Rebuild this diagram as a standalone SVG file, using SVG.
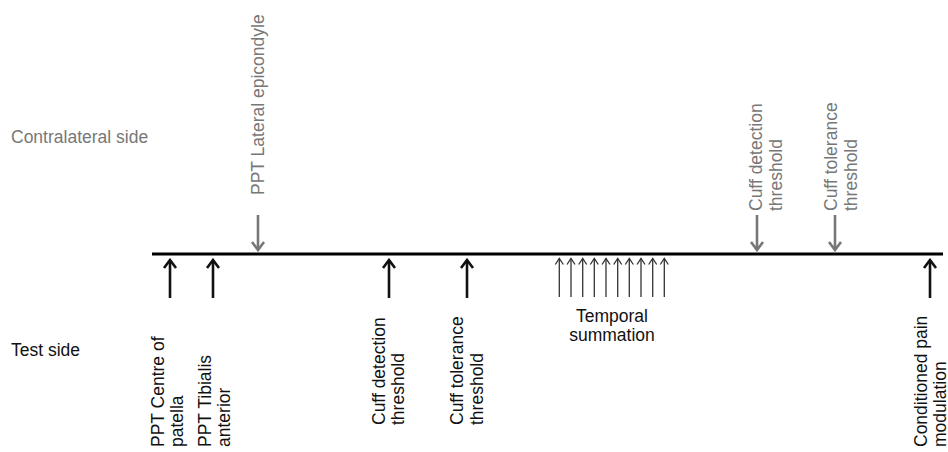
<svg xmlns="http://www.w3.org/2000/svg" width="948" height="452" viewBox="0 0 948 452">
<style>
text{font-family:"Liberation Sans",Arial,sans-serif;font-size:17.5px}
.g{fill:#777}
.k{fill:#111}
.ab{stroke:#111;stroke-width:2.6;fill:none}
.ag{stroke:#777;stroke-width:2.6;fill:none}
.at{stroke:#333;stroke-width:1.3;fill:none}
</style>
<defs>
<marker id="hk" viewBox="-10 -8 12 16" markerWidth="12" markerHeight="16" refX="0" refY="0" orient="auto" markerUnits="userSpaceOnUse"><path d="M-8,-6 L0,0 L-8,6" fill="none" stroke="#111" stroke-width="2.6"/></marker>
<marker id="hg" viewBox="-10 -8 12 16" markerWidth="12" markerHeight="16" refX="0" refY="0" orient="auto" markerUnits="userSpaceOnUse"><path d="M-8,-6 L0,0 L-8,6" fill="none" stroke="#777" stroke-width="2.6"/></marker>
<marker id="ht" viewBox="-8 -6 10 12" markerWidth="10" markerHeight="12" refX="0" refY="0" orient="auto" markerUnits="userSpaceOnUse"><path d="M-6,-4 L0,0 L-6,4" fill="none" stroke="#333" stroke-width="1.3"/></marker>
</defs>
<rect width="948" height="452" fill="#fff"/>
<g id="side-labels">
<text class="g" x="11" y="143">Contralateral side</text>
<text class="k" x="11" y="356">Test side</text>
</g>
<g id="timeline"><line x1="152" y1="254" x2="943" y2="254" stroke="#000" stroke-width="3"/></g>
<g id="connectors">
<line class="ag" x1="258" y1="215" x2="258" y2="250" marker-end="url(#hg)"/>
<line class="ag" x1="757" y1="215" x2="757" y2="250" marker-end="url(#hg)"/>
<line class="ag" x1="835" y1="215" x2="835" y2="250" marker-end="url(#hg)"/>
<line class="ab" x1="170" y1="298" x2="170" y2="260" marker-end="url(#hk)"/>
<line class="ab" x1="213" y1="298" x2="213" y2="260" marker-end="url(#hk)"/>
<line class="ab" x1="389" y1="298" x2="389" y2="260" marker-end="url(#hk)"/>
<line class="ab" x1="467" y1="298" x2="467" y2="260" marker-end="url(#hk)"/>
<line class="ab" x1="930" y1="298" x2="930" y2="260" marker-end="url(#hk)"/>
<g id="temporal-arrows">
<line class="at" x1="559.3" y1="297" x2="559.3" y2="258.5" marker-end="url(#ht)"/>
<line class="at" x1="571" y1="297" x2="571" y2="258.5" marker-end="url(#ht)"/>
<line class="at" x1="582.7" y1="297" x2="582.7" y2="258.5" marker-end="url(#ht)"/>
<line class="at" x1="594.3" y1="297" x2="594.3" y2="258.5" marker-end="url(#ht)"/>
<line class="at" x1="606" y1="297" x2="606" y2="258.5" marker-end="url(#ht)"/>
<line class="at" x1="617.7" y1="297" x2="617.7" y2="258.5" marker-end="url(#ht)"/>
<line class="at" x1="629.3" y1="297" x2="629.3" y2="258.5" marker-end="url(#ht)"/>
<line class="at" x1="641" y1="297" x2="641" y2="258.5" marker-end="url(#ht)"/>
<line class="at" x1="652.7" y1="297" x2="652.7" y2="258.5" marker-end="url(#ht)"/>
<line class="at" x1="664.3" y1="297" x2="664.3" y2="258.5" marker-end="url(#ht)"/>
</g>
</g>
<g id="ppt-lateral-epicondyle">
<text class="g" transform="translate(263.5,195) rotate(-90)">PPT Lateral epicondyle</text>
</g>
<g id="contra-cuff-detection">
<text class="g" transform="translate(762,211) rotate(-90)"><tspan x="0" y="0">Cuff detection</tspan><tspan x="0" y="19.5">threshold</tspan></text>
</g>
<g id="contra-cuff-tolerance">
<text class="g" transform="translate(837,211) rotate(-90)"><tspan x="0" y="0">Cuff tolerance</tspan><tspan x="0" y="19.5">threshold</tspan></text>
</g>
<g id="ppt-centre-patella">
<text class="k" transform="translate(163.5,447) rotate(-90)"><tspan x="0" y="0">PPT Centre of</tspan><tspan x="0" y="19">patella</tspan></text>
</g>
<g id="ppt-tibialis-anterior">
<text class="k" transform="translate(211,447) rotate(-90)"><tspan x="0" y="0">PPT Tibialis</tspan><tspan x="0" y="19">anterior</tspan></text>
</g>
<g id="test-cuff-detection">
<text class="k" transform="translate(385,425) rotate(-90)"><tspan x="0" y="0">Cuff detection</tspan><tspan x="0" y="19">threshold</tspan></text>
</g>
<g id="test-cuff-tolerance">
<text class="k" transform="translate(463,425) rotate(-90)"><tspan x="0" y="0">Cuff tolerance</tspan><tspan x="0" y="19.5">threshold</tspan></text>
</g>
<g id="temporal-summation">
<text class="k" text-anchor="middle" x="612" y="322">Temporal</text>
<text class="k" text-anchor="middle" x="612" y="341">summation</text>
</g>
<g id="conditioned-pain-modulation">
<text class="k" transform="translate(926.5,447) rotate(-90)"><tspan x="0" y="0">Conditioned pain</tspan><tspan x="0" y="19">modulation</tspan></text>
</g>
</svg>
